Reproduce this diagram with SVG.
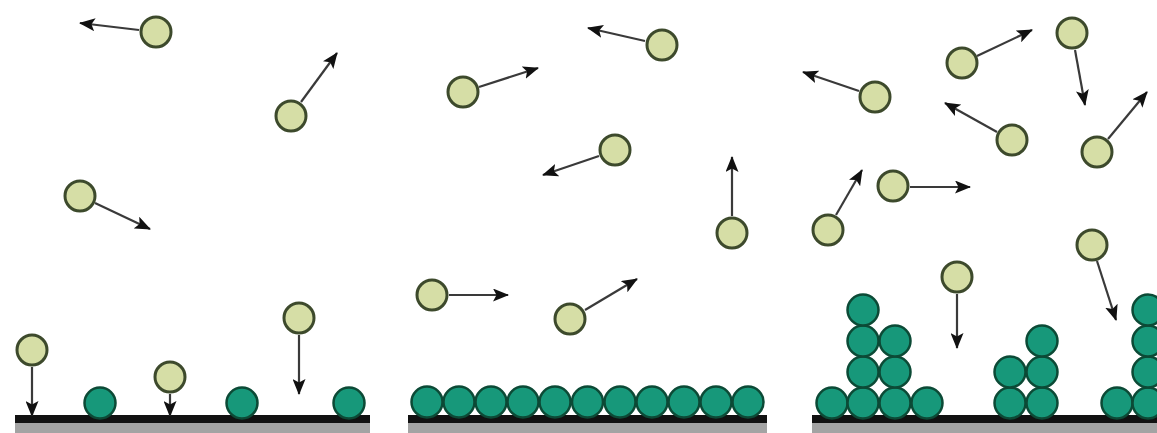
<svg xmlns="http://www.w3.org/2000/svg" width="1157" height="433" viewBox="0 0 1157 433">
  <style>
    .gas { fill: #d6dea6; stroke: #3d4a2c; stroke-width: 3; }
    .film { fill: #17987a; stroke: #0c4a36; stroke-width: 2.5; }
    .bar { fill: #111111; }
    .base { fill: #a3a3a3; }
    .arrow { stroke: #3a3a3a; stroke-width: 2.2; fill: none; marker-end: url(#head); }
  </style>
  <defs>
    <marker id="head" markerUnits="userSpaceOnUse" markerWidth="16" markerHeight="13" refX="15" refY="6.5" orient="auto">
      <path d="M0,0 L16,6.5 L0,13 L3.5,6.5 z" fill="#111111"/>
    </marker>
  </defs>
  <rect width="1157" height="433" fill="#ffffff"/>

  <!-- substrates -->
  <g id="substrates">
    <rect class="base" x="15" y="423" width="355" height="10"/>
    <rect class="bar" x="15" y="415" width="355" height="8"/>
    <rect class="base" x="408" y="423" width="359" height="10"/>
    <rect class="bar" x="408" y="415" width="359" height="8"/>
    <rect class="base" x="812" y="423" width="345" height="10"/>
    <rect class="bar" x="812" y="415" width="345" height="8"/>
  </g>

  <!-- motion arrows -->
  <g id="connectors">
    <line class="arrow" x1="139" y1="30" x2="80" y2="23"/>
    <line class="arrow" x1="301" y1="102" x2="337" y2="53"/>
    <line class="arrow" x1="95" y1="203" x2="150" y2="229"/>
    <line class="arrow" x1="32" y1="367" x2="32" y2="416"/>
    <line class="arrow" x1="170" y1="394" x2="170" y2="416"/>
    <line class="arrow" x1="299" y1="335" x2="299" y2="394"/>
    <line class="arrow" x1="449" y1="295" x2="508" y2="295"/>
    <line class="arrow" x1="585" y1="310" x2="637" y2="279"/>
    <line class="arrow" x1="645" y1="41" x2="588" y2="28"/>
    <line class="arrow" x1="479" y1="87" x2="538" y2="68"/>
    <line class="arrow" x1="599" y1="156" x2="543" y2="175"/>
    <line class="arrow" x1="732" y1="216" x2="732" y2="157"/>
    <line class="arrow" x1="859" y1="91" x2="803" y2="72"/>
    <line class="arrow" x1="977" y1="56" x2="1032" y2="30"/>
    <line class="arrow" x1="1075" y1="50" x2="1085" y2="105"/>
    <line class="arrow" x1="997" y1="132" x2="945" y2="103"/>
    <line class="arrow" x1="1108" y1="139" x2="1147" y2="92"/>
    <line class="arrow" x1="910" y1="187" x2="970" y2="187"/>
    <line class="arrow" x1="836" y1="215" x2="862" y2="170"/>
    <line class="arrow" x1="957" y1="294" x2="957" y2="348"/>
    <line class="arrow" x1="1097" y1="261" x2="1116" y2="320"/>
  </g>

  <!-- gas-phase particles -->
  <g id="gas-particles">
    <circle class="gas" cx="156" cy="32" r="15"/>
    <circle class="gas" cx="291" cy="116" r="15"/>
    <circle class="gas" cx="80" cy="196" r="15"/>
    <circle class="gas" cx="32" cy="350" r="15"/>
    <circle class="gas" cx="170" cy="377" r="15"/>
    <circle class="gas" cx="299" cy="318" r="15"/>
    <circle class="gas" cx="432" cy="295" r="15"/>
    <circle class="gas" cx="570" cy="319" r="15"/>
    <circle class="gas" cx="662" cy="45" r="15"/>
    <circle class="gas" cx="463" cy="92" r="15"/>
    <circle class="gas" cx="615" cy="150" r="15"/>
    <circle class="gas" cx="732" cy="233" r="15"/>
    <circle class="gas" cx="875" cy="97" r="15"/>
    <circle class="gas" cx="962" cy="63" r="15"/>
    <circle class="gas" cx="1072" cy="33" r="15"/>
    <circle class="gas" cx="1012" cy="140" r="15"/>
    <circle class="gas" cx="1097" cy="152" r="15"/>
    <circle class="gas" cx="893" cy="186" r="15"/>
    <circle class="gas" cx="828" cy="230" r="15"/>
    <circle class="gas" cx="957" cy="277" r="15"/>
    <circle class="gas" cx="1092" cy="245" r="15"/>
  </g>

  <!-- deposited particles: isolated nuclei -->
  <g id="deposit-islands">
    <circle class="film" cx="100" cy="403" r="15.5"/>
    <circle class="film" cx="242" cy="403" r="15.5"/>
    <circle class="film" cx="349" cy="403" r="15.5"/>
  </g>

  <!-- deposited particles: continuous monolayer -->
  <g id="deposit-layer">
    <circle class="film" cx="427" cy="402" r="15.5"/>
    <circle class="film" cx="459" cy="402" r="15.5"/>
    <circle class="film" cx="491" cy="402" r="15.5"/>
    <circle class="film" cx="523" cy="402" r="15.5"/>
    <circle class="film" cx="555" cy="402" r="15.5"/>
    <circle class="film" cx="587.5" cy="402" r="15.5"/>
    <circle class="film" cx="620" cy="402" r="15.5"/>
    <circle class="film" cx="652" cy="402" r="15.5"/>
    <circle class="film" cx="684" cy="402" r="15.5"/>
    <circle class="film" cx="716" cy="402" r="15.5"/>
    <circle class="film" cx="748" cy="402" r="15.5"/>
  </g>

  <!-- deposited particles: stacked columns -->
  <g id="deposit-columns">
    <circle class="film" cx="832" cy="403" r="15.5"/>
    <circle class="film" cx="863" cy="403" r="15.5"/>
    <circle class="film" cx="895" cy="403" r="15.5"/>
    <circle class="film" cx="927" cy="403" r="15.5"/>
    <circle class="film" cx="863" cy="372" r="15.5"/>
    <circle class="film" cx="895" cy="372" r="15.5"/>
    <circle class="film" cx="863" cy="341" r="15.5"/>
    <circle class="film" cx="895" cy="341" r="15.5"/>
    <circle class="film" cx="863" cy="310" r="15.5"/>

    <circle class="film" cx="1010" cy="403" r="15.5"/>
    <circle class="film" cx="1042" cy="403" r="15.5"/>
    <circle class="film" cx="1010" cy="372" r="15.5"/>
    <circle class="film" cx="1042" cy="372" r="15.5"/>
    <circle class="film" cx="1042" cy="341" r="15.5"/>

    <circle class="film" cx="1117" cy="403" r="15.5"/>
    <circle class="film" cx="1148" cy="403" r="15.5"/>
    <circle class="film" cx="1148" cy="372" r="15.5"/>
    <circle class="film" cx="1148" cy="341" r="15.5"/>
    <circle class="film" cx="1148" cy="310" r="15.5"/>
  </g>
</svg>
